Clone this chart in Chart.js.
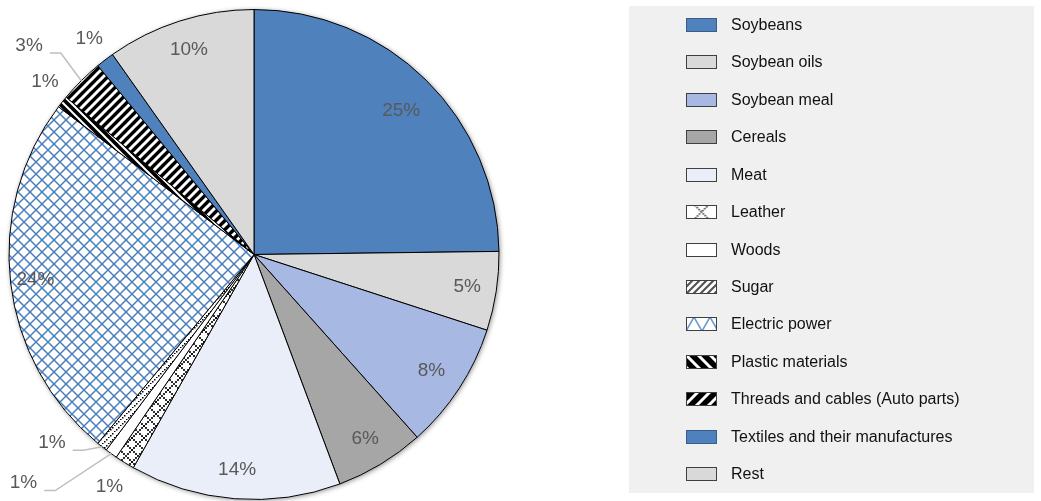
<!DOCTYPE html>
<html><head><meta charset="utf-8">
<script src="https://cdn.jsdelivr.net/npm/chart.js@4/dist/chart.umd.min.js"></script>
<style>html,body{margin:0;padding:0;background:#fff;overflow:hidden}#wrap{width:1041px;height:501px}</style>
</head><body><div id="wrap"><canvas id="c" width="1041" height="501"></canvas></div>
<script>
// ---- data ----
const categories = ['Soybeans','Soybean oils','Soybean meal','Cereals','Meat','Leather','Woods','Sugar','Electric power','Plastic materials','Threads and cables (Auto parts)','Textiles and their manufactures','Rest'];
const shares = [24.8, 5.2, 8.4, 5.9, 13.9, 1.3, 0.8, 0.7, 24.3, 0.8, 2.9, 1.2, 9.8];

// ---- styling ----
const FONT = '"Liberation Sans", Arial, sans-serif';
const mainCtx = document.getElementById('c').getContext('2d');
function tile(w, h, draw){
  const c = document.createElement('canvas'); c.width = w; c.height = h;
  const g = c.getContext('2d'); draw(g, w, h);
  return mainCtx.createPattern(c, 'repeat');
}
function diamondPath(g, w, h){
  g.beginPath(); g.moveTo(0, h/2); g.lineTo(w/2, 0); g.lineTo(w, h/2); g.lineTo(w/2, h); g.closePath();
}
function dottedDiamond(g, s, color, dot){
  g.fillStyle = color; const h = s/2;
  for(let k=0;k<=s;k+=2){ const d = h - Math.abs(k-h); g.fillRect(k-dot/2, h-d-dot/2, dot, dot); g.fillRect(k-dot/2, h+d-dot/2, dot, dot); }
}
function stripes(w, bg, fg, lw, dir){
  return tile(w, w, (g,s)=>{ g.fillStyle=bg; g.fillRect(0,0,s,s); g.strokeStyle=fg; g.lineWidth=lw; g.beginPath();
    for(let o=-s;o<=s;o+=s){ if(dir>0){ g.moveTo(o-2, s+2); g.lineTo(o+s+2, -2); } else { g.moveTo(o-2,-2); g.lineTo(o+s+2, s+2); } }
    g.stroke(); });
}
// slice fills
const pElectric = tile(12,12,(g,w,h)=>{ g.fillStyle='#fff'; g.fillRect(0,0,w,h); g.strokeStyle='#4a7ebb'; g.lineWidth=1.5; diamondPath(g,w,h); g.stroke(); });
const pLeather  = tile(12,12,(g,w,h)=>{ g.fillStyle='#fff'; g.fillRect(0,0,w,h); dottedDiamond(g,w,'#000',1.8); });
const pSugar    = tile(6,6,(g,s)=>{ g.fillStyle='#fff'; g.fillRect(0,0,s,s); g.fillStyle='#000'; for(let k=0;k<s;k+=2){ g.fillRect(k, s-1-k, 1.5, 1.5); } });
const pThreads  = stripes(9, '#000', '#fff', 3, 1);
const pPlastic  = stripes(8, '#000', '#fff', 2, -1);
const fills = ['#4f81bd','#d9d9d9','#a7b9e3','#a6a6a6','#eaeef8', pLeather, '#ffffff', pSugar, pElectric, pPlastic, pThreads, '#4f81bd', '#d9d9d9'];
// legend swatches show the same fills at a larger scale
const legendFills = fills.slice();
const legendShift = fills.map(()=>[0,0]);
legendFills[5]  = tile(28,28,(g,w,h)=>{ g.fillStyle='#fff'; g.fillRect(0,0,w,h); g.strokeStyle='#333'; g.lineWidth=1.6; g.setLineDash([1.5,1.2]); diamondPath(g,w,h); g.stroke(); });
legendShift[5] = [1.5, 7];
legendFills[7]  = stripes(7, '#fff', '#555', 2.2, 1);
legendFills[8]  = tile(16,28,(g,w,h)=>{ g.fillStyle='#fff'; g.fillRect(0,0,w,h); g.strokeStyle='#6d9ad6'; g.lineWidth=1.6; diamondPath(g,w,h); g.stroke(); });
legendFills[9]  = stripes(12, '#000', '#fff', 3, -1);
legendFills[10] = stripes(12, '#000', '#fff', 3, 1);

// label placement relative to each slice: radius factor, angle offset (deg), leader line
const placement = [
  {r:0.84,da:1},{r:0.88,da:0},{r:0.865,da:0},{r:0.877,da:0},{r:0.88,da:0},
  {r:1.118,da:0},{r:1.325,da:9.6,leader:true},{r:1.127,da:8.7,leader:true},
  {r:0.898,da:0},{r:1.106,da:1},{r:1.253,da:-2.3,leader:true},{r:1.107,da:0},{r:0.876,da:0}
];

const shadowPlugin = {
  id:'pieShadow',
  beforeDatasetsDraw(chart){
    const arc = chart.getDatasetMeta(0).data[0]; if(!arc) return;
    const {x,y,outerRadius} = arc.getProps(['x','y','outerRadius'], true);
    const ctx = chart.ctx; ctx.save();
    ctx.shadowColor='rgba(0,0,0,0.45)'; ctx.shadowBlur=5; ctx.shadowOffsetX=1; ctx.shadowOffsetY=1;
    ctx.beginPath(); ctx.arc(x,y,outerRadius,0,Math.PI*2); ctx.fillStyle='#fff'; ctx.fill(); ctx.restore();
  }
};

const labelPlugin = {
  id:'sliceLabels',
  afterDatasetsDraw(chart){
    const ctx = chart.ctx, meta = chart.getDatasetMeta(0);
    const total = shares.reduce((a,b)=>a+b,0);
    ctx.save(); ctx.font = '19px ' + FONT; ctx.textAlign='center'; ctx.textBaseline='middle';
    meta.data.forEach((arc,i)=>{
      const {x,y,startAngle,endAngle,outerRadius} = arc.getProps(['x','y','startAngle','endAngle','outerRadius'], true);
      const mid = (startAngle+endAngle)/2, p = placement[i];
      const a = mid + p.da*Math.PI/180, r = outerRadius*p.r;
      const lx = x + Math.cos(a)*r, ly = y + Math.sin(a)*r;
      const txt = Math.round(shares[i]/total*100) + '%';
      if(p.leader){
        const hw = ctx.measureText(txt).width/2;
        const ex = x + Math.cos(mid)*outerRadius, ey = y + Math.sin(mid)*outerRadius;
        const endX = lx + hw + 7, endY = ly + 7.5;
        ctx.strokeStyle='#bfbfbf'; ctx.lineWidth=1.5;
        ctx.beginPath(); ctx.moveTo(endX,endY); ctx.lineTo(endX+11,endY); ctx.lineTo(ex,ey); ctx.stroke();
      }
      ctx.fillStyle='#595959'; ctx.fillText(txt, lx, ly);
    });
    ctx.restore();
  }
};

const legendPlugin = {
  id:'boxLegend',
  afterDraw(chart){
    const ctx = chart.ctx;
    ctx.save();
    ctx.fillStyle='#f0f0f0'; ctx.fillRect(629,6,405,487);
    ctx.font = '16px ' + FONT; ctx.textBaseline='middle'; ctx.textAlign='left';
    chart.data.labels.forEach((lab,i)=>{
      const cy = Math.round(25 + i*37.42);
      const [sx, sy] = legendShift[i];
      ctx.save(); ctx.translate(686 + sx, cy - 7 + sy);
      ctx.fillStyle = legendFills[i]; ctx.fillRect(-sx, -sy, 31, 14);
      ctx.strokeStyle = (i===0||i===11) ? '#385d8a' : '#404040'; ctx.lineWidth=1;
      ctx.strokeRect(0.5 - sx, 0.5 - sy, 30, 13);
      ctx.restore();
      ctx.fillStyle='#111'; ctx.fillText(lab, 731, cy+1);
    });
    ctx.restore();
  }
};

new Chart(document.getElementById('c'), {
  type:'pie',
  data:{ labels: categories, datasets:[{ data: shares, backgroundColor: fills, borderColor:'#000', borderWidth:1 }] },
  options:{
    responsive:false, animation:false, devicePixelRatio:1,
    radius:245,
    layout:{ padding:{left:9, top:10, right:542, bottom:2} },
    plugins:{ legend:{display:false}, tooltip:{enabled:false} }
  },
  plugins:[shadowPlugin, labelPlugin, legendPlugin]
});
</script>
</body></html>
